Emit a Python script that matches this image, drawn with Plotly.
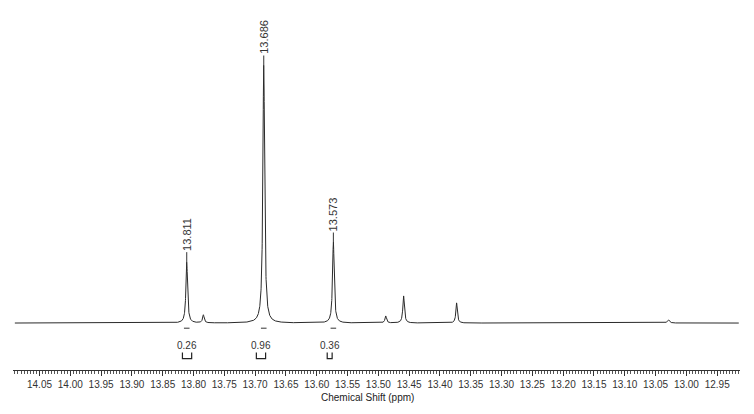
import numpy as np
import plotly.graph_objects as go

# Peak list (ppm, relative intensity, half-width ppm)
peak_ppm = [13.811, 13.784, 13.686, 13.573, 13.488, 13.459, 13.373, 13.029]
peak_int = [0.236, 0.031, 1.000, 0.314, 0.027, 0.105, 0.078, 0.012]
peak_hw = [0.0016, 0.0015, 0.0017, 0.0016, 0.0015, 0.0015, 0.0014, 0.0020]

# Labelled peaks
label_ppm = [13.811, 13.686, 13.573]
label_txt = ["13.811", "13.686", "13.573"]
label_int = [0.236, 1.000, 0.314]

# Integrals
int_from = [13.818, 13.698, 13.583]
int_to = [13.803, 13.683, 13.575]
int_val = ["0.26", "0.96", "0.36"]

x_range = [14.093, 12.913]
major_ticks = [14.05, 14.00, 13.95, 13.90, 13.85, 13.80, 13.75, 13.70, 13.65, 13.60,
               13.55, 13.50, 13.45, 13.40, 13.35, 13.30, 13.25, 13.20, 13.15, 13.10,
               13.05, 13.00, 12.95]

x = np.linspace(14.09, 12.915, 8000)
y = np.zeros_like(x)
for p, h, w in zip(peak_ppm, peak_int, peak_hw):
    y += h / (1 + ((x - p) / w) ** 2)

fig = go.Figure()
fig.add_trace(go.Scatter(x=x, y=y, mode="lines",
                         line=dict(color="#2a2a2a", width=1), hoverinfo="skip"))

# small peak-pick marks below labelled peaks
fig.add_trace(go.Scatter(x=label_ppm, y=[-0.02] * len(label_ppm), mode="markers",
                         marker=dict(symbol="line-ew", size=4,
                                     line=dict(color="#333", width=1)),
                         hoverinfo="skip"))

# integral brackets
bx, by = [], []
for a, b in zip(int_from, int_to):
    bx += [a, a, b, b, None]
    by += [-0.114, -0.138, -0.138, -0.114, None]
fig.add_trace(go.Scatter(x=bx, y=by, mode="lines",
                         line=dict(color="#222", width=1.2), hoverinfo="skip"))

font_lab = "Liberation Sans Narrow, Arial Narrow, Liberation Sans, Arial"
for a, b, v in zip(int_from, int_to, int_val):
    fig.add_annotation(x=(a + b) / 2, y=-0.086, text=v, showarrow=False,
                       font=dict(family=font_lab, size=10, color="#333"))

for p, t, h in zip(label_ppm, label_txt, label_int):
    fig.add_annotation(x=p, y=h, text=t, textangle=-90, showarrow=True,
                       arrowhead=0, arrowwidth=1, arrowcolor="#333",
                       ax=0, ay=-28, standoff=0,
                       font=dict(family="Liberation Sans, Arial", size=11, color="#333"))

fig.add_annotation(x=0.488, xref="paper", y=-0.0, yref="paper", yshift=-27,
                   yanchor="middle", text="Chemical Shift (ppm)", showarrow=False,
                   font=dict(family=font_lab, size=10, color="#222"))

fig.update_layout(
    width=754, height=414,
    margin=dict(l=13, r=14, t=0, b=44),
    paper_bgcolor="white", plot_bgcolor="white",
    showlegend=False,
    xaxis=dict(range=x_range, autorange=False, tickvals=major_ticks,
               ticktext=[f"{v:.2f}" for v in major_ticks],
               showgrid=False, zeroline=False, showline=True,
               linecolor="#333", linewidth=1,
               ticks="outside", ticklen=5, tickcolor="#333", tickwidth=1,
               minor=dict(dtick=0.005, tick0=0, ticks="outside", ticklen=3,
                          tickcolor="#555", showgrid=False),
               tickfont=dict(family=font_lab, size=10, color="#333")),
    yaxis=dict(range=[-0.182, 1.252], autorange=False, visible=False),
)

fig.write_html("out.html")
